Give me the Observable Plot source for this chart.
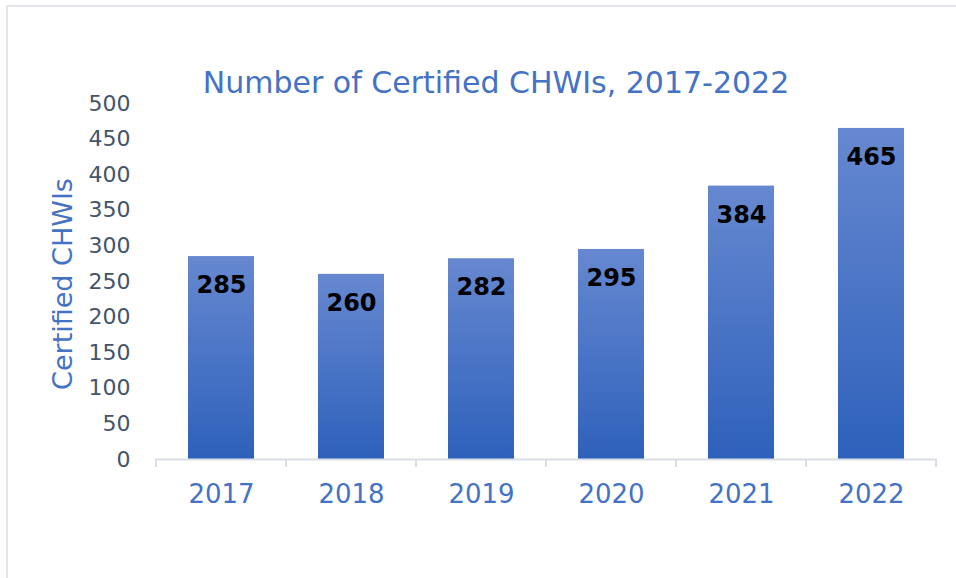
<!DOCTYPE html>
<html>
<head>
<meta charset="utf-8">
<script src="https://cdn.jsdelivr.net/npm/d3@7"></script>
<script src="https://cdn.jsdelivr.net/npm/@observablehq/plot@0.6"></script>
<style>
  html, body { margin: 0; padding: 0; background: #fff; overflow: hidden; }
  #wrap { position: relative; width: 956px; height: 578px; }
  #frame { position: absolute; left: 6px; top: 5px; width: 980px; height: 600px; border: 2px solid #E3E6EA; box-sizing: border-box; pointer-events: none; }
  #chart { position: absolute; left: 0; top: 0; }
</style>
</head>
<body>
<div id="wrap"><div id="frame"></div><div id="chart"></div></div>
<script>
const years = ["2017", "2018", "2019", "2020", "2021", "2022"];
const values = [285, 260, 282, 295, 384, 465];
const yTicks = [0, 50, 100, 150, 200, 250, 300, 350, 400, 450, 500];
const titleText = "Number of Certified CHWIs, 2017-2022";
const yLabel = "Certified CHWIs";

const data = years.map((y, i) => ({year: y, value: values[i]}));
const font = "DejaVu Sans, Verdana, sans-serif";

const W = 956, H = 578;

const defs = () => {
  const g = d3.create("svg:defs");
  const lg = g.append("linearGradient").attr("id", "barGrad")
    .attr("x1", 0).attr("y1", 0).attr("x2", 0).attr("y2", 1);
  lg.append("stop").attr("offset", "0%").attr("stop-color", "#6688D0");
  lg.append("stop").attr("offset", "100%").attr("stop-color", "#2E61BB");
  return g.node();
};

const extras = (index, scales, values_, dims) => {
  const g = d3.create("svg:g");
  const x = scales.x;
  const step = x.step();
  const y0 = scales.y(0);
  g.append("line")
    .attr("x1", dims.marginLeft).attr("x2", dims.width - dims.marginRight)
    .attr("y1", y0 + 0.5).attr("y2", y0 + 0.5)
    .attr("stroke", "#D9DEE6").attr("stroke-width", 2);
  const bounds = years.map(d => x(d) + x.bandwidth() / 2 - step / 2);
  bounds.push(x(years[years.length - 1]) + x.bandwidth() / 2 + step / 2);
  for (const b of bounds) {
    g.append("line").attr("x1", b).attr("x2", b)
      .attr("y1", y0).attr("y2", y0 + 8)
      .attr("stroke", "#D9DEE6").attr("stroke-width", 2);
  }
  g.append("text").attr("x", 496).attr("y", 93)
    .attr("text-anchor", "middle").attr("fill", "#4472C4")
    .attr("font-family", font).attr("font-size", 30).text(titleText);
  g.append("text").attr("transform", `translate(72,${284}) rotate(-90)`)
    .attr("text-anchor", "middle").attr("fill", "#4472C4")
    .attr("font-family", font).attr("font-size", 27).text(yLabel);
  return g.node();
};

const chart = Plot.plot({
  width: W,
  height: H,
  marginLeft: 155,
  marginRight: 19,
  marginTop: 103,
  marginBottom: 119,
  style: {fontFamily: font, background: "transparent"},
  x: {domain: years, paddingInner: 0.49, paddingOuter: 0.245, label: null},
  y: {domain: [0, 500], label: null},
  marks: [
    defs,
    Plot.barY(data, {x: "year", y: "value", fill: "url(#barGrad)"}),
    Plot.text(data, {x: "year", y: "value", text: d => String(d.value), dy: 29,
      fontSize: 24, fontWeight: "bold", fill: "#000"}),
    Plot.axisY({ticks: yTicks, tickSize: 0, tickPadding: 25, fontSize: 22,
      fill: "#44546A", label: null}),
    Plot.axisX({tickSize: 0, tickPadding: 25, fontSize: 26, fill: "#4472C4", label: null}),
    extras
  ]
});
document.getElementById("chart").appendChild(chart);
</script>
</body>
</html>
